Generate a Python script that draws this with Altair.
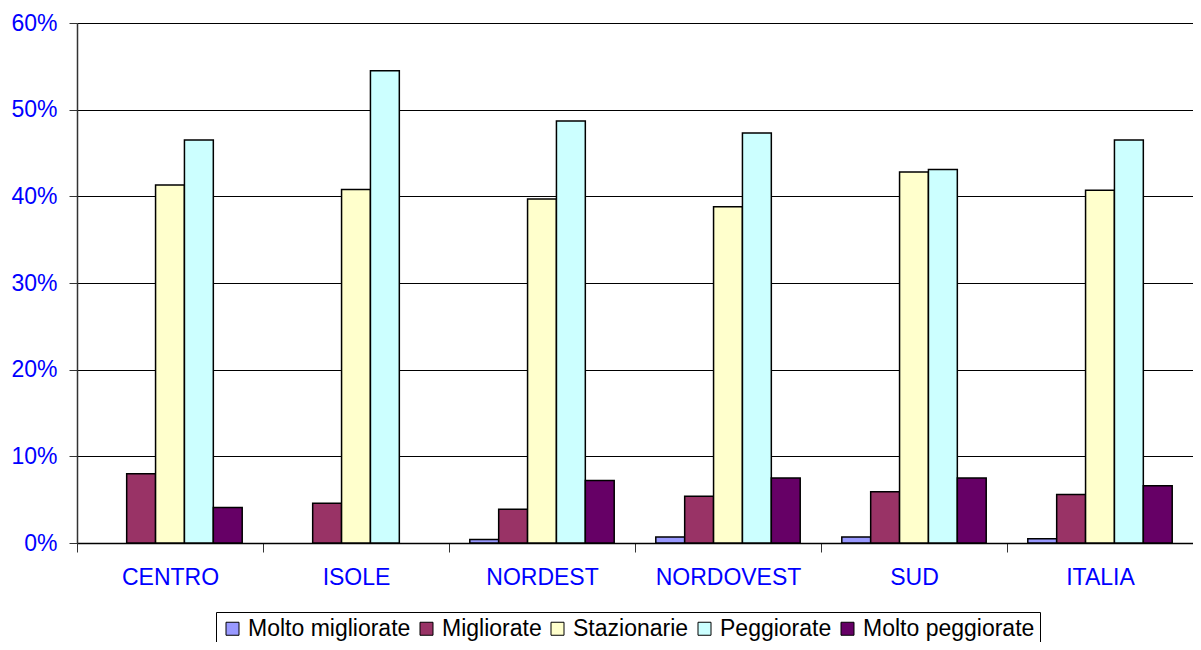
import altair as alt
import pandas as pd

regions = ["CENTRO", "ISOLE", "NORDEST", "NORDOVEST", "SUD", "ITALIA"]
series = ["Molto migliorate", "Migliorate", "Stazionarie", "Peggiorate", "Molto peggiorate"]
colors = ["#9999FF", "#993366", "#FFFFCC", "#CCFFFF", "#660066"]

molto_migliorate = [0.0, 0.0, 0.4, 0.7, 0.7, 0.5]
migliorate = [8.0, 4.6, 3.9, 5.4, 5.9, 5.6]
stazionarie = [41.3, 40.8, 39.7, 38.8, 42.8, 40.7]
peggiorate = [46.5, 54.5, 48.7, 47.3, 43.1, 46.5]
molto_peggiorate = [4.1, 0.0, 7.2, 7.5, 7.5, 6.6]

y_ticks = [0, 10, 20, 30, 40, 50, 60]

values = [molto_migliorate, migliorate, stazionarie, peggiorate, molto_peggiorate]
rows = []
for s, vals in zip(series, values):
    for r, v in zip(regions, vals):
        if v > 0:
            rows.append({"Regione": r, "Serie": s, "Valore": v})
df = pd.DataFrame(rows)

FONT = "Liberation Sans"

chart = alt.Chart(df).mark_bar(stroke="black", strokeWidth=1.5).encode(
    x=alt.X(
        "Regione:N",
        sort=regions,
        scale=alt.Scale(domain=regions, paddingInner=0, paddingOuter=0),
        axis=alt.Axis(
            title=None, labelAngle=0, tickBand="extent", grid=False,
            labelColor="#0000FF", labelFont=FONT, labelFontSize=23,
            labelPadding=14, tickSize=9, tickColor="#333333",
            domainColor="#000000", domainWidth=1.5,
        ),
    ),
    xOffset=alt.XOffset(
        "Serie:N", sort=series,
        scale=alt.Scale(domain=series, paddingInner=0, paddingOuter=0.72),
    ),
    y=alt.Y(
        "Valore:Q",
        scale=alt.Scale(domain=[0, 60], nice=False),
        axis=alt.Axis(
            title=None, values=y_ticks, labelExpr="datum.value + '%'",
            grid=True, gridColor="#000000", gridWidth=1,
            labelColor="#0000FF", labelFont=FONT, labelFontSize=23,
            labelPadding=12, tickSize=8, tickColor="#333333",
            domainColor="#333333", domainWidth=1.5,
        ),
    ),
    color=alt.Color(
        "Serie:N", sort=series,
        scale=alt.Scale(domain=series, range=colors),
        legend=alt.Legend(
            title=None, orient="none", legendX=139, legendY=589,
            direction="horizontal", columns=5,
            symbolType="square", symbolSize=169, symbolStrokeColor="black",
            symbolStrokeWidth=1, labelFont=FONT, labelFontSize=23,
            labelColor="black", labelOffset=4, columnPadding=4,
            labelLimit=400, padding=5, strokeColor="#000000",
        ),
    ),
).properties(
    width=1116, height=520,
    padding={"left": 69, "top": 15, "right": 0, "bottom": 99},
    autosize=alt.AutoSizeParams(type="none"),
).configure_view(stroke=None)

chart.save("out.html", embed_options={"renderer": "svg", "actions": False})
